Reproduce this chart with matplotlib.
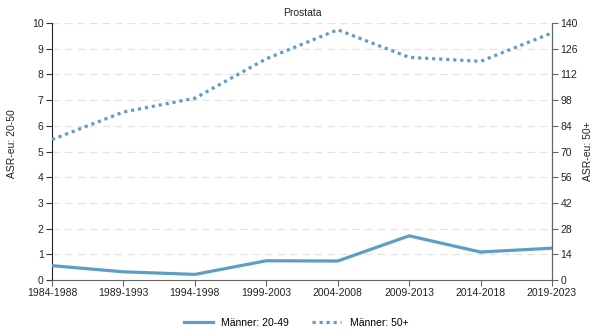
import matplotlib
matplotlib.use("Agg")
import matplotlib.pyplot as plt
from matplotlib.lines import Line2D

plt.rcParams['font.family'] = ['Liberation Sans', 'DejaVu Sans']

periods = ["1984-1988", "1989-1993", "1994-1998", "1999-2003",
           "2004-2008", "2009-2013", "2014-2018", "2019-2023"]
men_20_49 = [0.56, 0.32, 0.22, 0.75, 0.74, 1.72, 1.09, 1.24]
men_50_plus = [76.5, 91.5, 99.0, 120.5, 136.3, 121.3, 119.1, 134.6]

left_ticks = list(range(0, 11))
right_ticks = list(range(0, 141, 14))

color = "#5f9dc9"
fs = 7.5

fig = plt.figure(figsize=(5.92, 3.33), dpi=100)
ax = fig.add_axes([0.0878, 0.159, 0.8446, 0.772])
ax2 = ax.twinx()

x = list(range(len(periods)))
ax.plot(x, men_20_49, color=color, lw=2.3, solid_capstyle="butt", zorder=3)
ax2.plot(x, men_50_plus, color=color, lw=2.3, linestyle=(0, (1, 1.2)), zorder=3)

ax.set_xlim(0, len(periods) - 1)
ax.set_ylim(0, 10)
ax2.set_ylim(0, 140)
ax.set_yticks(left_ticks)
ax2.set_yticks(right_ticks)
ax.set_xticks(x)
ax.set_xticklabels(periods)

for y in left_ticks[1:]:
    ax.axhline(y, color="#e3e3e3", lw=0.9, linestyle=(0, (6, 4)), zorder=0)

ax.tick_params(axis="both", labelsize=fs, length=4, width=0.8, colors="#333333",
               labelcolor="#222222", pad=2)
ax2.tick_params(axis="y", labelsize=fs, length=4, width=0.8, colors="#666666",
                labelcolor="#222222", pad=2)

for a in (ax, ax2):
    a.spines["top"].set_visible(False)
ax.spines["left"].set_color("#222222")
ax.spines["bottom"].set_color("#666666")
ax2.spines["right"].set_color("#666666")
ax2.spines["left"].set_visible(False)
ax2.spines["bottom"].set_visible(False)
ax.tick_params(axis="x", colors="#666666", labelcolor="#222222")

ax.set_title("Prostata", fontsize=fs, pad=5, color="#222222")
fig.text(0.020, 0.57, "ASR-eu: 20-50", rotation=90, fontsize=fs,
         ha="center", va="center", color="#222222")
fig.text(0.993, 0.545, "ASR-eu: 50+", rotation=90, fontsize=fs,
         ha="center", va="center", color="#222222")

handles = [Line2D([], [], color=color, lw=2.3),
           Line2D([], [], color=color, lw=2.3, linestyle=(0, (1, 1.2)))]
fig.legend(handles, ["Männer: 20-49", "Männer: 50+"], loc="center",
           bbox_to_anchor=(0.5, 0.03), ncol=2, frameon=False, fontsize=fs,
           handlelength=2.8, columnspacing=2.2, handletextpad=0.8)

fig.savefig("out.png", dpi=100)
